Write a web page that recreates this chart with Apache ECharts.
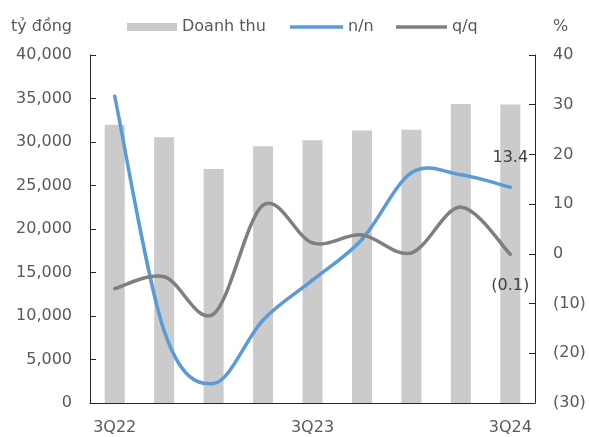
<!DOCTYPE html>
<html>
<head>
<meta charset="utf-8">
<script src="https://cdn.jsdelivr.net/npm/echarts@6/dist/echarts.min.js"></script>
<style>
  html, body { margin: 0; padding: 0; background: #fff; }
  #chart { width: 589px; height: 437px; }
</style>
</head>
<body>
<div id="chart"></div>
<script>
// Quarterly revenue (tỷ đồng) with year-on-year and quarter-on-quarter growth (%)
const quarters = ['3Q22', '4Q22', '1Q23', '2Q23', '3Q23', '4Q23', '1Q24', '2Q24', '3Q24'];
const revenue  = [31980, 30560, 26900, 29520, 30210, 31320, 31400, 34360, 34310];
const yoy      = [31.7, -15.5, -26.1, -13.3, -5.3, 2.9, 16.3, 15.9, 13.4];
const qoq      = [-7.0, -4.6, -12.1, 9.8, 2.2, 3.8, 0.2, 9.4, -0.1];
const leftTicks  = { min: 0, max: 40000, step: 5000 };
const rightTicks = { min: -30, max: 40, step: 10 };

const FONT = 'DejaVu Sans';
const TEXT = '#595959';
const AXIS = '#262626';

const pct = v => v < 0 ? '(' + (-v) + ')' : String(v);

// Growth line drawn as a Catmull-Rom spline through the axis-mapped points;
// the last point carries its value label (above or below the point).
function growthSeries(name, values, color, labelBelow) {
  const n = values.length;
  return {
    name: name,
    type: 'custom',
    coordinateSystem: 'cartesian2d',
    yAxisIndex: 1,
    z: 5,
    data: values.map((v, i) => [i, v]),
    itemStyle: { color: color },
    renderItem: function (params, api) {
      const i = params.dataIndex;
      const pt = k => {
        const j = Math.max(0, Math.min(n - 1, k));
        return api.coord([j, values[j]]);
      };
      const children = [];
      if (i < n - 1) {
        const p0 = pt(i - 1), p1 = pt(i), p2 = pt(i + 1), p3 = pt(i + 2);
        children.push({
          type: 'bezierCurve',
          shape: {
            x1: p1[0], y1: p1[1], x2: p2[0], y2: p2[1],
            cpx1: p1[0] + (p2[0] - p0[0]) / 6, cpy1: p1[1] + (p2[1] - p0[1]) / 6,
            cpx2: p2[0] - (p3[0] - p1[0]) / 6, cpy2: p2[1] - (p3[1] - p1[1]) / 6
          },
          style: { stroke: color, lineWidth: 3.5, fill: null, lineCap: 'round' }
        });
      } else {
        const p = pt(i);
        children.push({
          type: 'text',
          style: {
            text: pct(values[i]),
            x: p[0], y: labelBelow ? p[1] + 23 : p[1] - 21,
            align: 'center', verticalAlign: labelBelow ? 'top' : 'bottom',
            fill: '#404040', fontSize: 16, fontFamily: FONT
          }
        });
      }
      return { type: 'group', children: children };
    }
  };
}

const chart = echarts.init(document.getElementById('chart'));
chart.setOption({
  animation: false,
  textStyle: { fontFamily: FONT },
  grid: { left: 90, right: 54, top: 55, bottom: 34 },
  legend: [
    { data: ['Doanh thu'], left: 127, top: 19, icon: 'rect', itemWidth: 50, itemHeight: 8,
      textStyle: { color: TEXT, fontSize: 16, fontFamily: FONT }, padding: 0 },
    { data: ['n/n'], left: 290, top: 19, icon: 'rect', itemWidth: 53, itemHeight: 3.5,
      textStyle: { color: TEXT, fontSize: 16, fontFamily: FONT }, padding: 0 },
    { data: ['q/q'], left: 396, top: 19, icon: 'rect', itemWidth: 51, itemHeight: 3.5,
      textStyle: { color: TEXT, fontSize: 16, fontFamily: FONT }, padding: 0 }
  ],
  xAxis: {
    type: 'category',
    data: quarters,
    boundaryGap: true,
    axisLine: { lineStyle: { color: AXIS, width: 1 } },
    axisTick: { inside: true, length: 5, interval: 0, lineStyle: { color: AXIS } },
    axisLabel: { interval: 3, margin: 17, color: TEXT, fontSize: 16, fontFamily: FONT },
    splitLine: { show: false }
  },
  yAxis: [
    {
      type: 'value',
      min: leftTicks.min, max: leftTicks.max, interval: leftTicks.step,
      name: 'tỷ đồng', nameLocation: 'end', nameGap: 28,
      nameTextStyle: { align: 'right', verticalAlign: 'middle', padding: [0, 18, 0, 0],
        color: TEXT, fontSize: 16, fontFamily: FONT },
      axisLine: { show: true, lineStyle: { color: AXIS, width: 1 } },
      axisTick: { show: true, inside: true, length: 6, lineStyle: { color: AXIS } },
      axisLabel: { margin: 18, color: TEXT, fontSize: 16, fontFamily: FONT,
        formatter: v => v.toLocaleString('en-US') },
      splitLine: { show: false }
    },
    {
      type: 'value',
      min: rightTicks.min, max: rightTicks.max, interval: rightTicks.step,
      name: '%', nameLocation: 'end', nameGap: 28,
      nameTextStyle: { align: 'left', verticalAlign: 'middle', padding: [0, 0, 0, 18],
        color: TEXT, fontSize: 16, fontFamily: FONT },
      position: 'right',
      axisLine: { show: true, lineStyle: { color: AXIS, width: 1 } },
      axisTick: { show: true, inside: true, length: 6, lineStyle: { color: AXIS } },
      axisLabel: { margin: 18, color: TEXT, fontSize: 16, fontFamily: FONT, formatter: pct },
      splitLine: { show: false }
    }
  ],
  series: [
    {
      name: 'Doanh thu', type: 'bar', yAxisIndex: 0, z: 2,
      data: revenue, barWidth: 20,
      itemStyle: { color: '#CBCBCB' }
    },
    growthSeries('n/n', yoy, '#5B9BD5', false),
    growthSeries('q/q', qoq, '#7F7F7F', true)
  ]
});
</script>
</body>
</html>
